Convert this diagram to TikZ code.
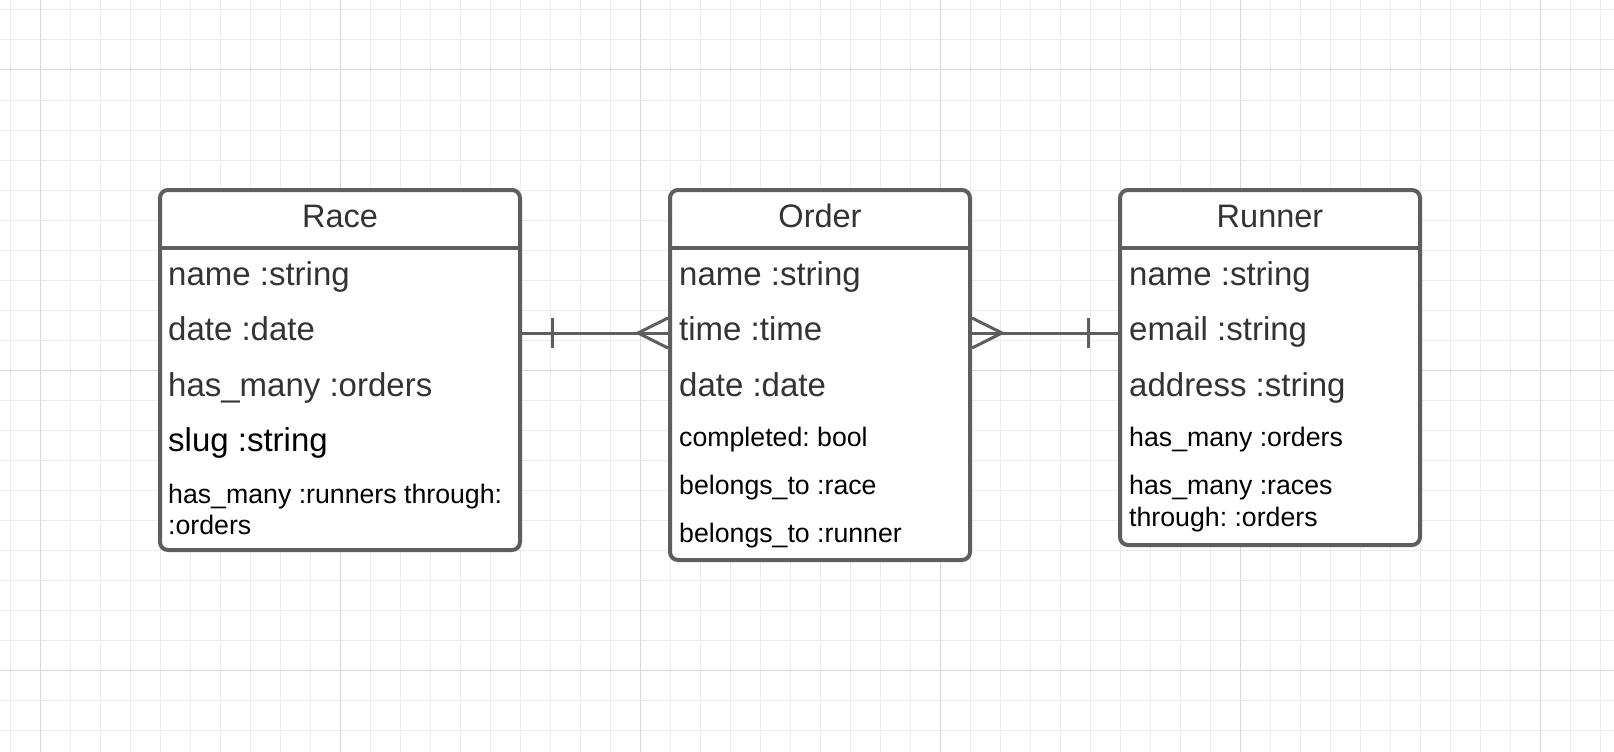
\documentclass[tikz,border=0pt]{standalone}
\usepackage{fontspec}
\setmainfont{Liberation Sans}
\usepackage{tikz}
\usetikzlibrary{positioning}
\usepackage{xcolor}
\definecolor{linegray}{RGB}{94,94,94}
\definecolor{textgray}{RGB}{51,51,51}
\definecolor{minorgrid}{RGB}{236,236,236}
\definecolor{majorgrid}{RGB}{218,218,218}
\frenchspacing

\begin{document}
\begin{tikzpicture}[x=1pt,y=-1pt]
		\tikzstyle{entity} = [draw=linegray, line width=4pt, rounded corners=8pt, fill=white, inner sep=0pt]
		\tikzstyle{head} = [inner sep=0pt, anchor=base, text=textgray, font=\fontsize{32.5}{38}\selectfont]
		\tikzstyle{attr} = [inner sep=0pt, anchor=base west, text=textgray, font=\fontsize{33}{38}\selectfont]
		\tikzstyle{small} = [inner sep=0pt, anchor=base west, text=black, align=left, font=\fontsize{26.7}{31}\selectfont]
		\tikzstyle{link} = [draw=linegray, line width=3pt]
		\tikzstyle{minor} = [minorgrid, line width=1pt]
		\tikzstyle{major} = [majorgrid, line width=1pt]

		\fill[white] (0,0) rectangle (1614,752);
		\useasboundingbox (0,0) rectangle (1614,752);
		\foreach \x in {10,40,...,1610} \draw[minor] (\x,0) -- (\x,752);
		\foreach \y in {10,40,...,750} \draw[minor] (0,\y) -- (1614,\y);
		\foreach \x in {40,340,...,1540} \draw[major] (\x,0) -- (\x,752);
		\foreach \y in {70,370,670} \draw[major] (0,\y) -- (1614,\y);

		\node[entity, minimum width=360pt, minimum height=360pt] (race) at (340,370) {};
		\node[entity, minimum width=300pt, minimum height=370pt] (order) at (820,375) {};
		\node[entity, minimum width=300pt, minimum height=355pt] (runner) at (1270,367.5) {};

		\draw[linegray, line width=4pt] ([yshift=-60pt]race.north west) -- ([yshift=-60pt]race.north east);
		\draw[linegray, line width=4pt] ([yshift=-60pt]order.north west) -- ([yshift=-60pt]order.north east);
		\draw[linegray, line width=4pt] ([yshift=-60pt]runner.north west) -- ([yshift=-60pt]runner.north east);

		\node[head] (racetitle) at (race.north |- 0,227) {Race};
		\node[attr] (racename) at (168,285) {name :string};
		\node[attr] (racedate) at (168,340) {date :date};
		\node[attr] (raceorders) at (168,396) {has\_many :orders};
		\node[attr, text=black] (raceslug) at (168,451) {slug :string};
		\node[small, font=\fontsize{26.7}{30.5}\selectfont] (racerunners) at (168,534) {has\_many :runners through:\\:orders};

		\node[head] (ordertitle) at (order.north |- 0,227) {Order};
		\node[attr] (ordername) at (679,285) {name :string};
		\node[attr] (ordertime) at (679,340) {time :time};
		\node[attr] (orderdate) at (679,396) {date :date};
		\node[small] (orderdone) at (679,446) {completed: bool};
		\node[small] (orderrace) at (679,494) {belongs\_to :race};
		\node[small] (orderrunner) at (679,542) {belongs\_to :runner};

		\node[head] (runnertitle) at (runner.north |- 0,227) {Runner};
		\node[attr] (runnername) at (1129,285) {name :string};
		\node[attr] (runneremail) at (1129,340) {email :string};
		\node[attr] (runneraddress) at (1129,396) {address :string};
		\node[small] (runnerorders) at (1129,446) {has\_many :orders};
		\node[small, font=\fontsize{26.7}{31.7}\selectfont] (runnerraces) at (1129,526) {has\_many :races\\through: :orders};

		\coordinate (relrow) at (0,333);
		\draw[link] (race.east |- relrow) -- (order.west |- relrow);
		\draw[link] (552,318) -- (552,348);
		\draw[link] ([yshift=15pt]order.west |- relrow) -- (638,333) -- ([yshift=-15pt]order.west |- relrow);

		\draw[link] (order.east |- relrow) -- (runner.west |- relrow);
		\draw[link] (1088,318) -- (1088,348);
		\draw[link] ([yshift=15pt]order.east |- relrow) -- (1002,333) -- ([yshift=-15pt]order.east |- relrow);
\end{tikzpicture}
\end{document}
